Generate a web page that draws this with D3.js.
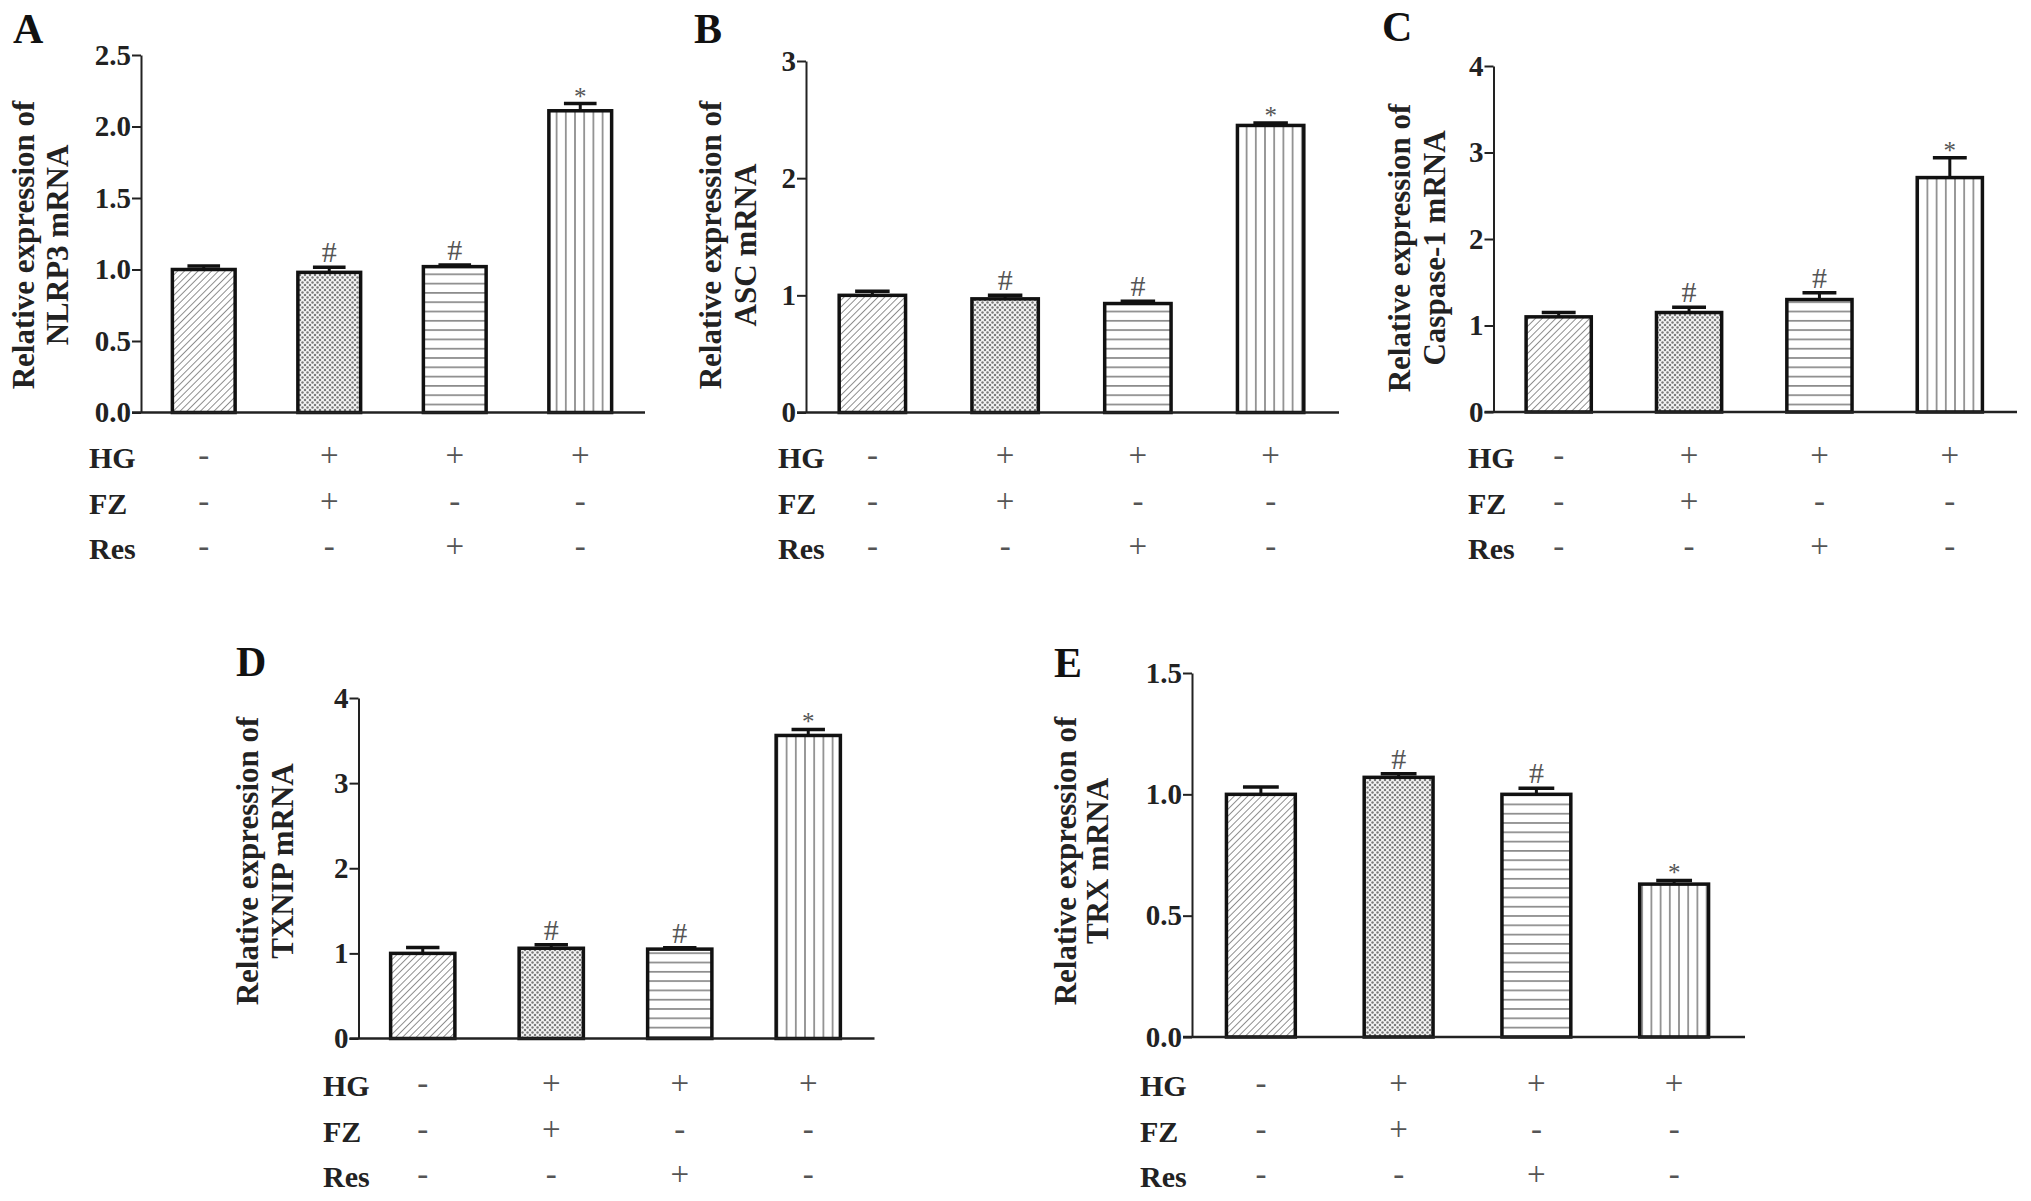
<!DOCTYPE html>
<html lang="en">
<head>
<meta charset="utf-8">
<title>Relative mRNA expression</title>
<script src="https://d3js.org/d3.v7.min.js"></script>
<style>
  body { margin: 0; background: #fff; }
  text { font-family: "Liberation Serif", "Times New Roman", serif; }
</style>
</head>
<body>
<script>
// values (mean, upper error)
var groups = ["Control", "HG+FZ", "HG+Res", "HG"];
var letters = ["A", "B", "C", "D", "E"];
var genes = ["NLRP3", "ASC", "Caspase-1", "TXNIP", "TRX"];

var nlrp3 = [1.00, 0.98, 1.02, 2.11];
var nlrp3Err = [0.025, 0.035, 0.012, 0.05];
var asc = [1.00, 0.97, 0.93, 2.45];
var ascErr = [0.035, 0.03, 0.02, 0.02];
var casp1 = [1.10, 1.15, 1.30, 2.71];
var casp1Err = [0.05, 0.06, 0.08, 0.23];
var txnip = [1.00, 1.06, 1.05, 3.56];
var txnipErr = [0.07, 0.04, 0.015, 0.07];
var trx = [1.00, 1.07, 1.00, 0.63];
var trxErr = [0.03, 0.015, 0.025, 0.015];

var marks = ["", "#", "#", "*"];
var yMax = [2.5, 3, 4, 4, 1.5];
var yTicks = [[0, 0.5, 1, 1.5, 2, 2.5], [0, 1, 2, 3], [0, 1, 2, 3, 4], [0, 1, 2, 3, 4], [0, 0.5, 1, 1.5]];
var tickFmt = [".1f", "d", "d", "d", ".1f"];

var rowNames = ["HG", "FZ", "Res"];
var hg = ["-", "+", "+", "+"];
var fz = ["-", "+", "-", "-"];
var res = ["-", "-", "+", "-"];

var values = [nlrp3, asc, casp1, txnip, trx];
var errors = [nlrp3Err, ascErr, casp1Err, txnipErr, trxErr];
var signs = [hg, fz, res];

// where each panel sits on the page
var layout = [
  {x0: 141, x1: 643, top: 55, bottom: 412.5, lx: 13, ly: 43, yl: [34, 68], yc: 245, rx: 89, ry: [468, 514, 559]},
  {x0: 806, x1: 1337, top: 61, bottom: 412.5, lx: 694, ly: 43, yl: [721, 756], yc: 245, rx: 778, ry: [468, 514, 559]},
  {x0: 1493.5, x1: 2015, top: 66, bottom: 412, lx: 1382, ly: 41, yl: [1410, 1445], yc: 248, rx: 1468, ry: [468, 514, 559]},
  {x0: 358.5, x1: 872.5, top: 698, bottom: 1038.5, lx: 236, ly: 676, yl: [258, 293], yc: 861, rx: 323, ry: [1096, 1142, 1187]},
  {x0: 1192, x1: 1743, top: 673, bottom: 1037, lx: 1054, ly: 677, yl: [1076, 1108], yc: 861, rx: 1140, ry: [1096, 1142, 1187]}
];

var svg = d3.select("body").append("svg")
  .attr("width", 2031)
  .attr("height", 1201);

svg.append("rect").attr("width", 2031).attr("height", 1201).attr("fill", "#fff");

// hatch fills for the four groups
var defs = svg.append("defs");

defs.append("pattern")
  .attr("id", "pat0")
  .attr("patternUnits", "userSpaceOnUse")
  .attr("width", 4.8).attr("height", 10)
  .attr("patternTransform", "rotate(45)")
  .call(p => {
    p.append("rect").attr("width", 4.8).attr("height", 10).attr("fill", "#fff");
    p.append("line").attr("x1", 0).attr("y1", 0).attr("x2", 0).attr("y2", 10)
      .attr("stroke", "#555").attr("stroke-width", 1.3);
  });

defs.append("pattern")
  .attr("id", "pat1")
  .attr("patternUnits", "userSpaceOnUse")
  .attr("width", 5).attr("height", 5)
  .call(p => {
    p.append("rect").attr("width", 5).attr("height", 5).attr("fill", "#f6f6f6");
    [[0, 0], [5, 0], [0, 5], [5, 5], [2.5, 2.5]].forEach(c => {
      p.append("circle").attr("cx", c[0]).attr("cy", c[1]).attr("r", 1.25).attr("fill", "#7a7a7a");
    });
  });

defs.append("pattern")
  .attr("id", "pat2")
  .attr("patternUnits", "userSpaceOnUse")
  .attr("width", 10).attr("height", 9.3)
  .call(p => {
    p.append("rect").attr("width", 10).attr("height", 9.3).attr("fill", "#fff");
    p.append("line").attr("x1", 0).attr("y1", 4.6).attr("x2", 10).attr("y2", 4.6)
      .attr("stroke", "#666").attr("stroke-width", 1.3);
  });

defs.append("pattern")
  .attr("id", "pat3")
  .attr("patternUnits", "userSpaceOnUse")
  .attr("width", 9.2).attr("height", 10)
  .call(p => {
    p.append("rect").attr("width", 9.2).attr("height", 10).attr("fill", "#fff");
    p.append("line").attr("x1", 4.6).attr("y1", 0).attr("x2", 4.6).attr("y2", 10)
      .attr("stroke", "#666").attr("stroke-width", 1.3);
  });

layout.forEach(function(L, k) {
  var g = svg.append("g").attr("class", "panel");

  var x = d3.scaleBand()
    .domain(groups)
    .range([L.x0, L.x1])
    .paddingInner(0.5)
    .paddingOuter(0.25);

  var y = d3.scaleLinear()
    .domain([0, yMax[k]])
    .range([L.bottom, L.top]);

  var bw = x.bandwidth();
  var vals = values[k];
  var errs = errors[k];

  // y axis
  var ax = g.append("g")
    .attr("transform", "translate(" + L.x0 + ",0)")
    .call(d3.axisLeft(y).tickValues(yTicks[k]).tickSize(9).tickSizeOuter(0)
      .tickPadding(1).tickFormat(d3.format(tickFmt[k])));
  ax.select(".domain").attr("stroke", "#222").attr("stroke-width", 2);
  ax.selectAll(".tick line").attr("stroke", "#222").attr("stroke-width", 2);
  ax.selectAll(".tick text")
    .attr("fill", "#222")
    .attr("font-size", "29px")
    .attr("font-weight", "bold")
    .attr("font-family", "Liberation Serif, Times New Roman, serif");

  // bars
  g.selectAll("rect.bar")
    .data(vals)
    .enter()
    .append("rect")
    .attr("class", "bar")
    .attr("x", (d, i) => x(groups[i]))
    .attr("y", d => y(d))
    .attr("width", bw)
    .attr("height", d => y(0) - y(d))
    .attr("fill", (d, i) => "url(#pat" + i + ")")
    .attr("stroke", "#111")
    .attr("stroke-width", 3.5);

  // error bars, upper half only
  g.selectAll("line.stem")
    .data(vals)
    .enter()
    .append("line")
    .attr("x1", (d, i) => x(groups[i]) + bw / 2)
    .attr("x2", (d, i) => x(groups[i]) + bw / 2)
    .attr("y1", d => y(d))
    .attr("y2", (d, i) => y(d + errs[i]))
    .attr("stroke", "#111")
    .attr("stroke-width", 3);

  g.selectAll("line.cap")
    .data(vals)
    .enter()
    .append("line")
    .attr("x1", (d, i) => x(groups[i]) + bw / 2 - bw * 0.26)
    .attr("x2", (d, i) => x(groups[i]) + bw / 2 + bw * 0.26)
    .attr("y1", (d, i) => y(d + errs[i]))
    .attr("y2", (d, i) => y(d + errs[i]))
    .attr("stroke", "#111")
    .attr("stroke-width", 3.5);

  // baseline
  g.append("line")
    .attr("x1", L.x0 - 9)
    .attr("x2", L.x1 + 2)
    .attr("y1", y(0))
    .attr("y2", y(0))
    .attr("stroke", "#222")
    .attr("stroke-width", 2.5);

  // significance marks
  g.selectAll("text.mark")
    .data(marks)
    .enter()
    .append("text")
    .attr("x", (d, i) => x(groups[i]) + bw / 2)
    .attr("y", (d, i) => y(vals[i] + errs[i]) + (d == "*" ? 1 : -5))
    .attr("text-anchor", "middle")
    .attr("font-size", d => d == "*" ? "25px" : "30px")
    .attr("fill", "#555")
    .text(d => d);

  // panel letter
  g.append("text")
    .attr("x", L.lx)
    .attr("y", L.ly)
    .attr("font-size", "42px")
    .attr("font-weight", "bold")
    .attr("fill", "#111")
    .text(letters[k]);

  // y label, two lines
  var ylab = ["Relative expression of", genes[k] + " mRNA"];
  g.selectAll("text.ylab")
    .data(ylab)
    .enter()
    .append("text")
    .attr("transform", (d, i) => "translate(" + L.yl[i] + "," + L.yc + ") rotate(-90)")
    .attr("text-anchor", "middle")
    .attr("font-size", "31px")
    .attr("font-weight", "bold")
    .attr("fill", "#222")
    .text(d => d);

  // treatment table
  rowNames.forEach(function(name, r) {
    g.append("text")
      .attr("x", L.rx)
      .attr("y", L.ry[r])
      .attr("font-size", "30px")
      .attr("font-weight", "bold")
      .attr("fill", "#222")
      .text(name);

    g.selectAll("text.sign" + r)
      .data(signs[r])
      .enter()
      .append("text")
      .attr("x", (d, i) => x(groups[i]) + bw / 2)
      .attr("y", L.ry[r] - 2)
      .attr("text-anchor", "middle")
      .attr("font-size", "33px")
      .attr("fill", "#555")
      .text(d => d);
  });
});
</script>
</body>
</html>
